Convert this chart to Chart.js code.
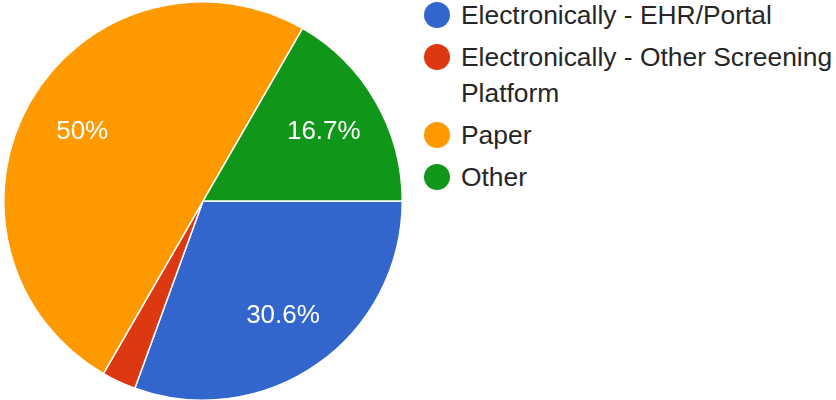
<!DOCTYPE html>
<html>
<head>
<meta charset="utf-8">
<script src="https://cdn.jsdelivr.net/npm/chart.js@4/dist/chart.umd.min.js"></script>
<style>
  body { margin: 0; background: #fff; width: 836px; height: 400px; overflow: hidden; position: relative; font-family: "Liberation Sans", Arial, sans-serif; }
  #pie-box { position: absolute; left: 3px; top: 1px; width: 400px; height: 400px; }
  #legend { position: absolute; left: 424px; top: -3px; margin: 0; padding: 0; list-style: none; width: 412px; }
  #legend li { display: flex; align-items: flex-start; margin-bottom: 6px; font-size: 26.4px; line-height: 36px; color: #262626; }
  #legend .dot { flex: none; width: 26px; height: 26px; border-radius: 50%; margin-top: 5px; margin-right: 11px; }
</style>
</head>
<body>
<div id="pie-box"><canvas id="answers-pie-chart"></canvas></div>
<ul id="legend"></ul>
<script>
/* Answers and how many people picked each */
let answerLabels = ['Electronically - EHR/Portal', 'Electronically - Other Screening Platform', 'Paper', 'Other']
let answerCounts = [11, 1, 18, 6]
let sliceColors = ['#3366cc', '#dc3912', '#ff9900', '#109618']

let total = answerCounts.reduce((a, b) => a + b, 0)

// percent text drawn inside each slice, small slices get no label (like google forms)
let sliceLabelPlugin = {
    id: 'sliceLabels',
    afterDatasetsDraw(chart) {
        let ctx = chart.ctx
        let meta = chart.getDatasetMeta(0)
        ctx.save()
        ctx.fillStyle = '#ffffff'
        ctx.font = '26px "Liberation Sans", Arial, sans-serif'
        ctx.textAlign = 'center'
        ctx.textBaseline = 'middle'
        meta.data.forEach(function(arc, i) {
            let pct = answerCounts[i] / total * 100
            if (pct < 5) return
            let p = arc.getProps(['x', 'y', 'startAngle', 'endAngle', 'outerRadius'], true)
            let mid = (p.startAngle + p.endAngle) / 2
            let r = p.outerRadius * 0.7
            let text = (Math.round(pct * 10) / 10) + '%'
            ctx.fillText(text, p.x + Math.cos(mid) * r, p.y + Math.sin(mid) * r + 1)
        })
        ctx.restore()
    }
}

let ctx = document.querySelector('#answers-pie-chart').getContext('2d')

let answersChart = new Chart(ctx, {
    type: 'pie',
    data: {
        labels: answerLabels,
        datasets: [{
            data: answerCounts,
            backgroundColor: sliceColors,
            borderColor: '#ffffff',
            borderWidth: 1.5
        }]
    },
    options: {
        responsive: true,
        maintainAspectRatio: false,
        animation: false,
        events: [],
        rotation: 90, // first slice starts at 3 o'clock
        layout: { padding: 0 },
        plugins: {
            legend: { display: false },
            tooltip: { enabled: false }
        }
    },
    plugins: [sliceLabelPlugin]
})

// html legend so the long label can wrap onto a second line
let legendList = document.querySelector('#legend')
answerLabels.forEach(function(label, i) {
    let li = document.createElement('li')
    let dot = document.createElement('span')
    dot.className = 'dot'
    dot.style.background = sliceColors[i]
    let text = document.createElement('span')
    text.textContent = label
    li.appendChild(dot)
    li.appendChild(text)
    legendList.appendChild(li)
})
</script>
</body>
</html>
